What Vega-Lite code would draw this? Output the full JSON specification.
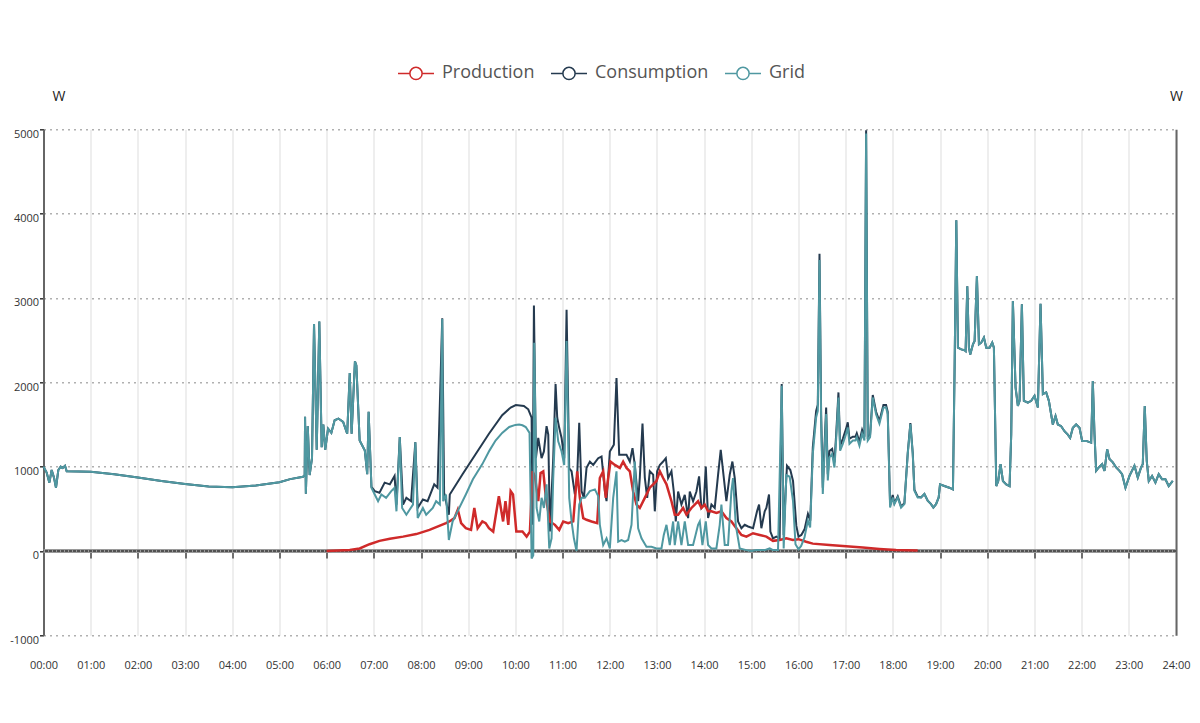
{
  "$schema": "https://vega.github.io/schema/vega-lite/v6.json",
  "background": "white",
  "autosize": {"type": "none"},
  "padding": {"left": 43.5, "top": 129.3, "right": 24, "bottom": 88},
  "width": 1132.5,
  "height": 506,
  "config": {
    "font": "Open Sans",
    "view": {"stroke": null},
    "axis": {"labelFont": "Open Sans", "titleFont": "Open Sans"}
  },
  "datasets": {
    "power": [
      {"series": "Grid", "hour": 0, "watts": 1000},
      {"series": "Grid", "hour": 0.067, "watts": 930},
      {"series": "Grid", "hour": 0.124, "watts": 810},
      {"series": "Grid", "hour": 0.173, "watts": 960},
      {"series": "Grid", "hour": 0.222, "watts": 870},
      {"series": "Grid", "hour": 0.265, "watts": 750},
      {"series": "Grid", "hour": 0.314, "watts": 960},
      {"series": "Grid", "hour": 0.364, "watts": 1000},
      {"series": "Grid", "hour": 0.406, "watts": 985},
      {"series": "Grid", "hour": 0.456, "watts": 1010},
      {"series": "Grid", "hour": 0.491, "watts": 945},
      {"series": "Grid", "hour": 1, "watts": 940},
      {"series": "Grid", "hour": 1.5, "watts": 910},
      {"series": "Grid", "hour": 2, "watts": 870},
      {"series": "Grid", "hour": 2.5, "watts": 830},
      {"series": "Grid", "hour": 3, "watts": 795},
      {"series": "Grid", "hour": 3.5, "watts": 765},
      {"series": "Grid", "hour": 4, "watts": 755},
      {"series": "Grid", "hour": 4.5, "watts": 775},
      {"series": "Grid", "hour": 5, "watts": 815},
      {"series": "Grid", "hour": 5.227, "watts": 852},
      {"series": "Grid", "hour": 5.5, "watts": 880},
      {"series": "Grid", "hour": 5.535, "watts": 900},
      {"series": "Grid", "hour": 5.543, "watts": 1590},
      {"series": "Grid", "hour": 5.56, "watts": 680},
      {"series": "Grid", "hour": 5.6, "watts": 1480},
      {"series": "Grid", "hour": 5.64, "watts": 900},
      {"series": "Grid", "hour": 5.69, "watts": 1100},
      {"series": "Grid", "hour": 5.733, "watts": 2690},
      {"series": "Grid", "hour": 5.79, "watts": 1200},
      {"series": "Grid", "hour": 5.845, "watts": 2720},
      {"series": "Grid", "hour": 5.895, "watts": 1230},
      {"series": "Grid", "hour": 5.93, "watts": 1500},
      {"series": "Grid", "hour": 5.97, "watts": 1200},
      {"series": "Grid", "hour": 6.03, "watts": 1450},
      {"series": "Grid", "hour": 6.1, "watts": 1400},
      {"series": "Grid", "hour": 6.17, "watts": 1550},
      {"series": "Grid", "hour": 6.25, "watts": 1570},
      {"series": "Grid", "hour": 6.35, "watts": 1530},
      {"series": "Grid", "hour": 6.436, "watts": 1390},
      {"series": "Grid", "hour": 6.49, "watts": 2110},
      {"series": "Grid", "hour": 6.53, "watts": 1390},
      {"series": "Grid", "hour": 6.6, "watts": 2250},
      {"series": "Grid", "hour": 6.63, "watts": 2200},
      {"series": "Grid", "hour": 6.7, "watts": 1310},
      {"series": "Grid", "hour": 6.81, "watts": 1190},
      {"series": "Grid", "hour": 6.86, "watts": 910},
      {"series": "Grid", "hour": 6.89, "watts": 1650},
      {"series": "Grid", "hour": 6.95, "watts": 750},
      {"series": "Grid", "hour": 7.02, "watts": 670},
      {"series": "Grid", "hour": 7.09, "watts": 590},
      {"series": "Grid", "hour": 7.16, "watts": 670},
      {"series": "Grid", "hour": 7.26, "watts": 630},
      {"series": "Grid", "hour": 7.37, "watts": 710},
      {"series": "Grid", "hour": 7.44, "watts": 750},
      {"series": "Grid", "hour": 7.48, "watts": 470},
      {"series": "Grid", "hour": 7.55, "watts": 1350},
      {"series": "Grid", "hour": 7.6, "watts": 510},
      {"series": "Grid", "hour": 7.69, "watts": 430},
      {"series": "Grid", "hour": 7.83, "watts": 550},
      {"series": "Grid", "hour": 7.88, "watts": 1290},
      {"series": "Grid", "hour": 7.93, "watts": 390},
      {"series": "Grid", "hour": 8.04, "watts": 510},
      {"series": "Grid", "hour": 8.11, "watts": 430},
      {"series": "Grid", "hour": 8.25, "watts": 510},
      {"series": "Grid", "hour": 8.32, "watts": 590},
      {"series": "Grid", "hour": 8.4, "watts": 550},
      {"series": "Grid", "hour": 8.45, "watts": 2750},
      {"series": "Grid", "hour": 8.47, "watts": 590},
      {"series": "Grid", "hour": 8.53, "watts": 670},
      {"series": "Grid", "hour": 8.59, "watts": 130},
      {"series": "Grid", "hour": 8.67, "watts": 350},
      {"series": "Grid", "hour": 8.95, "watts": 670},
      {"series": "Grid", "hour": 9.1, "watts": 850},
      {"series": "Grid", "hour": 9.3, "watts": 1030},
      {"series": "Grid", "hour": 9.45, "watts": 1190},
      {"series": "Grid", "hour": 9.58, "watts": 1310},
      {"series": "Grid", "hour": 9.72, "watts": 1400},
      {"series": "Grid", "hour": 9.87, "watts": 1470},
      {"series": "Grid", "hour": 10.0, "watts": 1495},
      {"series": "Grid", "hour": 10.08, "watts": 1500},
      {"series": "Grid", "hour": 10.15, "watts": 1490},
      {"series": "Grid", "hour": 10.22, "watts": 1470},
      {"series": "Grid", "hour": 10.3, "watts": 1400},
      {"series": "Grid", "hour": 10.344, "watts": -90},
      {"series": "Grid", "hour": 10.379, "watts": -50},
      {"series": "Grid", "hour": 10.4, "watts": 2470},
      {"series": "Grid", "hour": 10.45, "watts": 510},
      {"series": "Grid", "hour": 10.506, "watts": 350},
      {"series": "Grid", "hour": 10.555, "watts": 630},
      {"series": "Grid", "hour": 10.605, "watts": 510},
      {"series": "Grid", "hour": 10.661, "watts": 790},
      {"series": "Grid", "hour": 10.718, "watts": 30},
      {"series": "Grid", "hour": 10.767, "watts": 150},
      {"series": "Grid", "hour": 10.802, "watts": 865},
      {"series": "Grid", "hour": 10.852, "watts": 1580},
      {"series": "Grid", "hour": 10.908, "watts": 1300},
      {"series": "Grid", "hour": 10.979, "watts": 1180},
      {"series": "Grid", "hour": 11.035, "watts": 1020},
      {"series": "Grid", "hour": 11.085, "watts": 2490},
      {"series": "Grid", "hour": 11.141, "watts": 630},
      {"series": "Grid", "hour": 11.191, "watts": 350},
      {"series": "Grid", "hour": 11.24, "watts": 150},
      {"series": "Grid", "hour": 11.296, "watts": 0},
      {"series": "Grid", "hour": 11.353, "watts": 550},
      {"series": "Grid", "hour": 11.402, "watts": 630},
      {"series": "Grid", "hour": 11.473, "watts": 630},
      {"series": "Grid", "hour": 11.579, "watts": 710},
      {"series": "Grid", "hour": 11.685, "watts": 730},
      {"series": "Grid", "hour": 11.755, "watts": 650},
      {"series": "Grid", "hour": 11.79, "watts": 310},
      {"series": "Grid", "hour": 11.861, "watts": 70},
      {"series": "Grid", "hour": 11.932, "watts": 150},
      {"series": "Grid", "hour": 12.002, "watts": 30},
      {"series": "Grid", "hour": 12.073, "watts": 630},
      {"series": "Grid", "hour": 12.143, "watts": 945},
      {"series": "Grid", "hour": 12.179, "watts": 110},
      {"series": "Grid", "hour": 12.249, "watts": 130},
      {"series": "Grid", "hour": 12.32, "watts": 110},
      {"series": "Grid", "hour": 12.39, "watts": 130},
      {"series": "Grid", "hour": 12.461, "watts": 310},
      {"series": "Grid", "hour": 12.531, "watts": 1060},
      {"series": "Grid", "hour": 12.602, "watts": 270},
      {"series": "Grid", "hour": 12.673, "watts": 150},
      {"series": "Grid", "hour": 12.778, "watts": 50},
      {"series": "Grid", "hour": 12.884, "watts": 50},
      {"series": "Grid", "hour": 12.99, "watts": 30},
      {"series": "Grid", "hour": 13.096, "watts": 30},
      {"series": "Grid", "hour": 13.145, "watts": 190},
      {"series": "Grid", "hour": 13.202, "watts": 310},
      {"series": "Grid", "hour": 13.272, "watts": 70},
      {"series": "Grid", "hour": 13.343, "watts": 350},
      {"series": "Grid", "hour": 13.378, "watts": 70},
      {"series": "Grid", "hour": 13.449, "watts": 350},
      {"series": "Grid", "hour": 13.519, "watts": 70},
      {"series": "Grid", "hour": 13.59, "watts": 350},
      {"series": "Grid", "hour": 13.661, "watts": 70},
      {"series": "Grid", "hour": 13.766, "watts": 70},
      {"series": "Grid", "hour": 13.872, "watts": 310},
      {"series": "Grid", "hour": 13.908, "watts": 350},
      {"series": "Grid", "hour": 13.964, "watts": 70},
      {"series": "Grid", "hour": 14.035, "watts": 350},
      {"series": "Grid", "hour": 14.084, "watts": 70},
      {"series": "Grid", "hour": 14.155, "watts": 30},
      {"series": "Grid", "hour": 14.26, "watts": 30},
      {"series": "Grid", "hour": 14.331, "watts": 310},
      {"series": "Grid", "hour": 14.366, "watts": 550},
      {"series": "Grid", "hour": 14.437, "watts": 70},
      {"series": "Grid", "hour": 14.507, "watts": 70},
      {"series": "Grid", "hour": 14.578, "watts": 710},
      {"series": "Grid", "hour": 14.613, "watts": 865},
      {"series": "Grid", "hour": 14.67, "watts": 310},
      {"series": "Grid", "hour": 14.754, "watts": 30},
      {"series": "Grid", "hour": 14.896, "watts": 10},
      {"series": "Grid", "hour": 15.001, "watts": 0},
      {"series": "Grid", "hour": 15.107, "watts": 10},
      {"series": "Grid", "hour": 15.178, "watts": 10},
      {"series": "Grid", "hour": 15.284, "watts": 10},
      {"series": "Grid", "hour": 15.389, "watts": 30},
      {"series": "Grid", "hour": 15.46, "watts": 10},
      {"series": "Grid", "hour": 15.566, "watts": 10},
      {"series": "Grid", "hour": 15.644, "watts": 1960},
      {"series": "Grid", "hour": 15.686, "watts": 30},
      {"series": "Grid", "hour": 15.742, "watts": 900},
      {"series": "Grid", "hour": 15.813, "watts": 880},
      {"series": "Grid", "hour": 15.884, "watts": 590},
      {"series": "Grid", "hour": 15.936, "watts": 80},
      {"series": "Grid", "hour": 16.0, "watts": 20},
      {"series": "Grid", "hour": 16.056, "watts": 60},
      {"series": "Grid", "hour": 16.127, "watts": 160},
      {"series": "Grid", "hour": 16.198, "watts": 360},
      {"series": "Grid", "hour": 16.247, "watts": 280},
      {"series": "Grid", "hour": 16.303, "watts": 1150},
      {"series": "Grid", "hour": 16.374, "watts": 1585},
      {"series": "Grid", "hour": 16.409, "watts": 1660},
      {"series": "Grid", "hour": 16.445, "watts": 3450},
      {"series": "Grid", "hour": 16.48, "watts": 1540},
      {"series": "Grid", "hour": 16.515, "watts": 675},
      {"series": "Grid", "hour": 16.55, "watts": 1150},
      {"series": "Grid", "hour": 16.586, "watts": 1625},
      {"series": "Grid", "hour": 16.621, "watts": 835},
      {"series": "Grid", "hour": 16.656, "watts": 1110},
      {"series": "Grid", "hour": 16.713, "watts": 1150},
      {"series": "Grid", "hour": 16.762, "watts": 990},
      {"series": "Grid", "hour": 16.797, "watts": 1310},
      {"series": "Grid", "hour": 16.847, "watts": 1820},
      {"series": "Grid", "hour": 16.882, "watts": 1190},
      {"series": "Grid", "hour": 16.939, "watts": 1270},
      {"series": "Grid", "hour": 17.009, "watts": 1390},
      {"series": "Grid", "hour": 17.044, "watts": 1465},
      {"series": "Grid", "hour": 17.08, "watts": 1270},
      {"series": "Grid", "hour": 17.15, "watts": 1310},
      {"series": "Grid", "hour": 17.207, "watts": 1310},
      {"series": "Grid", "hour": 17.235, "watts": 1350},
      {"series": "Grid", "hour": 17.291, "watts": 1250},
      {"series": "Grid", "hour": 17.348, "watts": 1390},
      {"series": "Grid", "hour": 17.397, "watts": 1310},
      {"series": "Grid", "hour": 17.433, "watts": 4950},
      {"series": "Grid", "hour": 17.468, "watts": 1310},
      {"series": "Grid", "hour": 17.517, "watts": 1350},
      {"series": "Grid", "hour": 17.574, "watts": 1820},
      {"series": "Grid", "hour": 17.644, "watts": 1620},
      {"series": "Grid", "hour": 17.715, "watts": 1510},
      {"series": "Grid", "hour": 17.8, "watts": 1700},
      {"series": "Grid", "hour": 17.856, "watts": 1700},
      {"series": "Grid", "hour": 17.891, "watts": 1620},
      {"series": "Grid", "hour": 17.941, "watts": 515},
      {"series": "Grid", "hour": 17.997, "watts": 635},
      {"series": "Grid", "hour": 18.032, "watts": 555},
      {"series": "Grid", "hour": 18.103, "watts": 635},
      {"series": "Grid", "hour": 18.174, "watts": 515},
      {"series": "Grid", "hour": 18.244, "watts": 555},
      {"series": "Grid", "hour": 18.315, "watts": 1150},
      {"series": "Grid", "hour": 18.371, "watts": 1505},
      {"series": "Grid", "hour": 18.421, "watts": 1150},
      {"series": "Grid", "hour": 18.456, "watts": 715},
      {"series": "Grid", "hour": 18.526, "watts": 635},
      {"series": "Grid", "hour": 18.597, "watts": 635},
      {"series": "Grid", "hour": 18.668, "watts": 675},
      {"series": "Grid", "hour": 18.738, "watts": 595},
      {"series": "Grid", "hour": 18.809, "watts": 555},
      {"series": "Grid", "hour": 18.858, "watts": 515},
      {"series": "Grid", "hour": 18.915, "watts": 555},
      {"series": "Grid", "hour": 18.971, "watts": 635},
      {"series": "Grid", "hour": 18.999, "watts": 790},
      {"series": "Grid", "hour": 19.091, "watts": 770},
      {"series": "Grid", "hour": 19.197, "watts": 750},
      {"series": "Grid", "hour": 19.273, "watts": 730},
      {"series": "Grid", "hour": 19.308, "watts": 2170},
      {"series": "Grid", "hour": 19.344, "watts": 3920},
      {"series": "Grid", "hour": 19.379, "watts": 2410},
      {"series": "Grid", "hour": 19.45, "watts": 2390},
      {"series": "Grid", "hour": 19.52, "watts": 2380},
      {"series": "Grid", "hour": 19.541, "watts": 2370},
      {"series": "Grid", "hour": 19.577, "watts": 3140},
      {"series": "Grid", "hour": 19.612, "watts": 2410},
      {"series": "Grid", "hour": 19.64, "watts": 2330},
      {"series": "Grid", "hour": 19.697, "watts": 2450},
      {"series": "Grid", "hour": 19.732, "watts": 2490},
      {"series": "Grid", "hour": 19.781, "watts": 3260},
      {"series": "Grid", "hour": 19.824, "watts": 2450},
      {"series": "Grid", "hour": 19.873, "watts": 2470},
      {"series": "Grid", "hour": 19.929, "watts": 2530},
      {"series": "Grid", "hour": 19.979, "watts": 2410},
      {"series": "Grid", "hour": 20.049, "watts": 2410},
      {"series": "Grid", "hour": 20.106, "watts": 2470},
      {"series": "Grid", "hour": 20.141, "watts": 2410},
      {"series": "Grid", "hour": 20.191, "watts": 770},
      {"series": "Grid", "hour": 20.233, "watts": 830},
      {"series": "Grid", "hour": 20.282, "watts": 1030},
      {"series": "Grid", "hour": 20.332, "watts": 830},
      {"series": "Grid", "hour": 20.402, "watts": 790},
      {"series": "Grid", "hour": 20.473, "watts": 770},
      {"series": "Grid", "hour": 20.508, "watts": 1380},
      {"series": "Grid", "hour": 20.543, "watts": 2965},
      {"series": "Grid", "hour": 20.6, "watts": 1940},
      {"series": "Grid", "hour": 20.649, "watts": 1720},
      {"series": "Grid", "hour": 20.685, "watts": 1780},
      {"series": "Grid", "hour": 20.734, "watts": 2925},
      {"series": "Grid", "hour": 20.776, "watts": 1780},
      {"series": "Grid", "hour": 20.861, "watts": 1760},
      {"series": "Grid", "hour": 20.932, "watts": 1780},
      {"series": "Grid", "hour": 21.002, "watts": 1840},
      {"series": "Grid", "hour": 21.073, "watts": 1700},
      {"series": "Grid", "hour": 21.129, "watts": 2930},
      {"series": "Grid", "hour": 21.179, "watts": 1860},
      {"series": "Grid", "hour": 21.249, "watts": 1880},
      {"series": "Grid", "hour": 21.306, "watts": 1780},
      {"series": "Grid", "hour": 21.39, "watts": 1500},
      {"series": "Grid", "hour": 21.447, "watts": 1600},
      {"series": "Grid", "hour": 21.496, "watts": 1500},
      {"series": "Grid", "hour": 21.567, "watts": 1480},
      {"series": "Grid", "hour": 21.637, "watts": 1420},
      {"series": "Grid", "hour": 21.708, "watts": 1380},
      {"series": "Grid", "hour": 21.757, "watts": 1340},
      {"series": "Grid", "hour": 21.814, "watts": 1460},
      {"series": "Grid", "hour": 21.884, "watts": 1500},
      {"series": "Grid", "hour": 21.955, "watts": 1460},
      {"series": "Grid", "hour": 22.011, "watts": 1305},
      {"series": "Grid", "hour": 22.096, "watts": 1305},
      {"series": "Grid", "hour": 22.202, "watts": 1285},
      {"series": "Grid", "hour": 22.237, "watts": 2015},
      {"series": "Grid", "hour": 22.273, "watts": 1380},
      {"series": "Grid", "hour": 22.308, "watts": 950},
      {"series": "Grid", "hour": 22.364, "watts": 990},
      {"series": "Grid", "hour": 22.435, "watts": 1030},
      {"series": "Grid", "hour": 22.484, "watts": 950},
      {"series": "Grid", "hour": 22.541, "watts": 1205},
      {"series": "Grid", "hour": 22.59, "watts": 1090},
      {"series": "Grid", "hour": 22.661, "watts": 1050},
      {"series": "Grid", "hour": 22.731, "watts": 990},
      {"series": "Grid", "hour": 22.802, "watts": 950},
      {"series": "Grid", "hour": 22.858, "watts": 910},
      {"series": "Grid", "hour": 22.929, "watts": 750},
      {"series": "Grid", "hour": 23.014, "watts": 890},
      {"series": "Grid", "hour": 23.119, "watts": 1010},
      {"series": "Grid", "hour": 23.19, "watts": 870},
      {"series": "Grid", "hour": 23.26, "watts": 990},
      {"series": "Grid", "hour": 23.296, "watts": 1030},
      {"series": "Grid", "hour": 23.338, "watts": 1720},
      {"series": "Grid", "hour": 23.38, "watts": 1070},
      {"series": "Grid", "hour": 23.423, "watts": 830},
      {"series": "Grid", "hour": 23.493, "watts": 890},
      {"series": "Grid", "hour": 23.564, "watts": 810},
      {"series": "Grid", "hour": 23.634, "watts": 910},
      {"series": "Grid", "hour": 23.705, "watts": 850},
      {"series": "Grid", "hour": 23.776, "watts": 850},
      {"series": "Grid", "hour": 23.846, "watts": 770},
      {"series": "Grid", "hour": 23.931, "watts": 830},

      {"series": "Consumption", "hour": 0, "watts": 1000},
      {"series": "Consumption", "hour": 0.067, "watts": 930},
      {"series": "Consumption", "hour": 0.124, "watts": 810},
      {"series": "Consumption", "hour": 0.173, "watts": 960},
      {"series": "Consumption", "hour": 0.222, "watts": 870},
      {"series": "Consumption", "hour": 0.265, "watts": 750},
      {"series": "Consumption", "hour": 0.314, "watts": 960},
      {"series": "Consumption", "hour": 0.364, "watts": 1000},
      {"series": "Consumption", "hour": 0.406, "watts": 985},
      {"series": "Consumption", "hour": 0.456, "watts": 1010},
      {"series": "Consumption", "hour": 0.491, "watts": 945},
      {"series": "Consumption", "hour": 1, "watts": 940},
      {"series": "Consumption", "hour": 1.5, "watts": 910},
      {"series": "Consumption", "hour": 2, "watts": 870},
      {"series": "Consumption", "hour": 2.5, "watts": 830},
      {"series": "Consumption", "hour": 3, "watts": 795},
      {"series": "Consumption", "hour": 3.5, "watts": 765},
      {"series": "Consumption", "hour": 4, "watts": 755},
      {"series": "Consumption", "hour": 4.5, "watts": 775},
      {"series": "Consumption", "hour": 5, "watts": 815},
      {"series": "Consumption", "hour": 5.227, "watts": 852},
      {"series": "Consumption", "hour": 5.5, "watts": 880},
      {"series": "Consumption", "hour": 5.535, "watts": 900},
      {"series": "Consumption", "hour": 5.543, "watts": 1590},
      {"series": "Consumption", "hour": 5.56, "watts": 680},
      {"series": "Consumption", "hour": 5.6, "watts": 1480},
      {"series": "Consumption", "hour": 5.64, "watts": 900},
      {"series": "Consumption", "hour": 5.69, "watts": 1100},
      {"series": "Consumption", "hour": 5.733, "watts": 2690},
      {"series": "Consumption", "hour": 5.79, "watts": 1200},
      {"series": "Consumption", "hour": 5.845, "watts": 2720},
      {"series": "Consumption", "hour": 5.895, "watts": 1230},
      {"series": "Consumption", "hour": 5.93, "watts": 1500},
      {"series": "Consumption", "hour": 5.97, "watts": 1200},
      {"series": "Consumption", "hour": 6.03, "watts": 1450},
      {"series": "Consumption", "hour": 6.1, "watts": 1400},
      {"series": "Consumption", "hour": 6.17, "watts": 1550},
      {"series": "Consumption", "hour": 6.25, "watts": 1570},
      {"series": "Consumption", "hour": 6.35, "watts": 1530},
      {"series": "Consumption", "hour": 6.436, "watts": 1390},
      {"series": "Consumption", "hour": 6.49, "watts": 2110},
      {"series": "Consumption", "hour": 6.53, "watts": 1390},
      {"series": "Consumption", "hour": 6.6, "watts": 2250},
      {"series": "Consumption", "hour": 6.63, "watts": 2200},
      {"series": "Consumption", "hour": 6.7, "watts": 1310},
      {"series": "Consumption", "hour": 6.81, "watts": 1190},
      {"series": "Consumption", "hour": 6.86, "watts": 910},
      {"series": "Consumption", "hour": 6.89, "watts": 1650},
      {"series": "Consumption", "hour": 6.95, "watts": 760},
      {"series": "Consumption", "hour": 7.02, "watts": 710},
      {"series": "Consumption", "hour": 7.12, "watts": 690},
      {"series": "Consumption", "hour": 7.23, "watts": 810},
      {"series": "Consumption", "hour": 7.34, "watts": 790},
      {"series": "Consumption", "hour": 7.44, "watts": 890},
      {"series": "Consumption", "hour": 7.48, "watts": 550},
      {"series": "Consumption", "hour": 7.55, "watts": 1350},
      {"series": "Consumption", "hour": 7.62, "watts": 550},
      {"series": "Consumption", "hour": 7.69, "watts": 630},
      {"series": "Consumption", "hour": 7.79, "watts": 590},
      {"series": "Consumption", "hour": 7.88, "watts": 1290},
      {"series": "Consumption", "hour": 7.93, "watts": 510},
      {"series": "Consumption", "hour": 8.04, "watts": 610},
      {"series": "Consumption", "hour": 8.14, "watts": 590},
      {"series": "Consumption", "hour": 8.28, "watts": 790},
      {"series": "Consumption", "hour": 8.35, "watts": 750},
      {"series": "Consumption", "hour": 8.45, "watts": 2760},
      {"series": "Consumption", "hour": 8.49, "watts": 690},
      {"series": "Consumption", "hour": 8.59, "watts": 430},
      {"series": "Consumption", "hour": 8.61, "watts": 670},
      {"series": "Consumption", "hour": 8.88, "watts": 910},
      {"series": "Consumption", "hour": 9.16, "watts": 1150},
      {"series": "Consumption", "hour": 9.44, "watts": 1390},
      {"series": "Consumption", "hour": 9.72, "watts": 1610},
      {"series": "Consumption", "hour": 9.9, "watts": 1700},
      {"series": "Consumption", "hour": 10.01, "watts": 1730},
      {"series": "Consumption", "hour": 10.18, "watts": 1720},
      {"series": "Consumption", "hour": 10.273, "watts": 1680},
      {"series": "Consumption", "hour": 10.344, "watts": 1580},
      {"series": "Consumption", "hour": 10.365, "watts": 310},
      {"series": "Consumption", "hour": 10.393, "watts": 2910},
      {"series": "Consumption", "hour": 10.435, "watts": 1100},
      {"series": "Consumption", "hour": 10.485, "watts": 1340},
      {"series": "Consumption", "hour": 10.555, "watts": 1100},
      {"series": "Consumption", "hour": 10.605, "watts": 1180},
      {"series": "Consumption", "hour": 10.661, "watts": 1480},
      {"series": "Consumption", "hour": 10.697, "watts": 1380},
      {"series": "Consumption", "hour": 10.732, "watts": 230},
      {"series": "Consumption", "hour": 10.802, "watts": 1100},
      {"series": "Consumption", "hour": 10.852, "watts": 1980},
      {"series": "Consumption", "hour": 10.887, "watts": 1580},
      {"series": "Consumption", "hour": 10.929, "watts": 1460},
      {"series": "Consumption", "hour": 10.979, "watts": 1340},
      {"series": "Consumption", "hour": 11.035, "watts": 1100},
      {"series": "Consumption", "hour": 11.085, "watts": 2860},
      {"series": "Consumption", "hour": 11.141, "watts": 980},
      {"series": "Consumption", "hour": 11.191, "watts": 945},
      {"series": "Consumption", "hour": 11.261, "watts": 670},
      {"series": "Consumption", "hour": 11.311, "watts": 905},
      {"series": "Consumption", "hour": 11.353, "watts": 1520},
      {"series": "Consumption", "hour": 11.402, "watts": 710},
      {"series": "Consumption", "hour": 11.452, "watts": 630},
      {"series": "Consumption", "hour": 11.508, "watts": 985},
      {"series": "Consumption", "hour": 11.579, "watts": 1060},
      {"series": "Consumption", "hour": 11.649, "watts": 1020},
      {"series": "Consumption", "hour": 11.755, "watts": 1100},
      {"series": "Consumption", "hour": 11.826, "watts": 1120},
      {"series": "Consumption", "hour": 11.896, "watts": 710},
      {"series": "Consumption", "hour": 11.932, "watts": 590},
      {"series": "Consumption", "hour": 12.002, "watts": 1180},
      {"series": "Consumption", "hour": 12.087, "watts": 1260},
      {"series": "Consumption", "hour": 12.143, "watts": 2050},
      {"series": "Consumption", "hour": 12.2, "watts": 1140},
      {"series": "Consumption", "hour": 12.249, "watts": 1140},
      {"series": "Consumption", "hour": 12.355, "watts": 1140},
      {"series": "Consumption", "hour": 12.426, "watts": 1060},
      {"series": "Consumption", "hour": 12.482, "watts": 1220},
      {"series": "Consumption", "hour": 12.531, "watts": 1020},
      {"series": "Consumption", "hour": 12.602, "watts": 590},
      {"series": "Consumption", "hour": 12.637, "watts": 870},
      {"series": "Consumption", "hour": 12.694, "watts": 1510},
      {"series": "Consumption", "hour": 12.743, "watts": 870},
      {"series": "Consumption", "hour": 12.793, "watts": 630},
      {"series": "Consumption", "hour": 12.849, "watts": 945},
      {"series": "Consumption", "hour": 12.92, "watts": 905},
      {"series": "Consumption", "hour": 12.955, "watts": 470},
      {"series": "Consumption", "hour": 13.004, "watts": 945},
      {"series": "Consumption", "hour": 13.061, "watts": 1020},
      {"series": "Consumption", "hour": 13.131, "watts": 1060},
      {"series": "Consumption", "hour": 13.188, "watts": 1100},
      {"series": "Consumption", "hour": 13.237, "watts": 865},
      {"series": "Consumption", "hour": 13.308, "watts": 945},
      {"series": "Consumption", "hour": 13.357, "watts": 705},
      {"series": "Consumption", "hour": 13.399, "watts": 350},
      {"series": "Consumption", "hour": 13.449, "watts": 705},
      {"series": "Consumption", "hour": 13.519, "watts": 550},
      {"series": "Consumption", "hour": 13.59, "watts": 665},
      {"series": "Consumption", "hour": 13.661, "watts": 390},
      {"series": "Consumption", "hour": 13.696, "watts": 705},
      {"series": "Consumption", "hour": 13.766, "watts": 590},
      {"series": "Consumption", "hour": 13.837, "watts": 705},
      {"series": "Consumption", "hour": 13.893, "watts": 885},
      {"series": "Consumption", "hour": 13.943, "watts": 510},
      {"series": "Consumption", "hour": 13.992, "watts": 550},
      {"series": "Consumption", "hour": 14.035, "watts": 1000},
      {"series": "Consumption", "hour": 14.084, "watts": 390},
      {"series": "Consumption", "hour": 14.155, "watts": 550},
      {"series": "Consumption", "hour": 14.225, "watts": 510},
      {"series": "Consumption", "hour": 14.296, "watts": 905},
      {"series": "Consumption", "hour": 14.352, "watts": 1200},
      {"series": "Consumption", "hour": 14.402, "watts": 945},
      {"series": "Consumption", "hour": 14.472, "watts": 590},
      {"series": "Consumption", "hour": 14.543, "watts": 905},
      {"series": "Consumption", "hour": 14.599, "watts": 1060},
      {"series": "Consumption", "hour": 14.649, "watts": 865},
      {"series": "Consumption", "hour": 14.719, "watts": 350},
      {"series": "Consumption", "hour": 14.79, "watts": 270},
      {"series": "Consumption", "hour": 14.86, "watts": 310},
      {"series": "Consumption", "hour": 14.931, "watts": 290},
      {"series": "Consumption", "hour": 15.037, "watts": 270},
      {"series": "Consumption", "hour": 15.121, "watts": 470},
      {"series": "Consumption", "hour": 15.164, "watts": 550},
      {"series": "Consumption", "hour": 15.213, "watts": 270},
      {"series": "Consumption", "hour": 15.284, "watts": 470},
      {"series": "Consumption", "hour": 15.319, "watts": 510},
      {"series": "Consumption", "hour": 15.375, "watts": 670},
      {"series": "Consumption", "hour": 15.404, "watts": 230},
      {"series": "Consumption", "hour": 15.46, "watts": 150},
      {"series": "Consumption", "hour": 15.531, "watts": 170},
      {"series": "Consumption", "hour": 15.601, "watts": 150},
      {"series": "Consumption", "hour": 15.644, "watts": 1980},
      {"series": "Consumption", "hour": 15.686, "watts": 190},
      {"series": "Consumption", "hour": 15.728, "watts": 710},
      {"series": "Consumption", "hour": 15.756, "watts": 1010},
      {"series": "Consumption", "hour": 15.827, "watts": 960},
      {"series": "Consumption", "hour": 15.884, "watts": 830},
      {"series": "Consumption", "hour": 15.954, "watts": 300},
      {"series": "Consumption", "hour": 16.0, "watts": 170},
      {"series": "Consumption", "hour": 16.06, "watts": 190},
      {"series": "Consumption", "hour": 16.13, "watts": 260},
      {"series": "Consumption", "hour": 16.2, "watts": 440},
      {"series": "Consumption", "hour": 16.25, "watts": 360},
      {"series": "Consumption", "hour": 16.303, "watts": 1230},
      {"series": "Consumption", "hour": 16.374, "watts": 1660},
      {"series": "Consumption", "hour": 16.409, "watts": 1735},
      {"series": "Consumption", "hour": 16.445, "watts": 3525},
      {"series": "Consumption", "hour": 16.48, "watts": 1615},
      {"series": "Consumption", "hour": 16.515, "watts": 750},
      {"series": "Consumption", "hour": 16.55, "watts": 1225},
      {"series": "Consumption", "hour": 16.586, "watts": 1700},
      {"series": "Consumption", "hour": 16.621, "watts": 910},
      {"series": "Consumption", "hour": 16.656, "watts": 1185},
      {"series": "Consumption", "hour": 16.713, "watts": 1210},
      {"series": "Consumption", "hour": 16.762, "watts": 1050},
      {"series": "Consumption", "hour": 16.797, "watts": 1370},
      {"series": "Consumption", "hour": 16.847, "watts": 1880},
      {"series": "Consumption", "hour": 16.882, "watts": 1250},
      {"series": "Consumption", "hour": 16.939, "watts": 1330},
      {"series": "Consumption", "hour": 17.009, "watts": 1450},
      {"series": "Consumption", "hour": 17.044, "watts": 1525},
      {"series": "Consumption", "hour": 17.08, "watts": 1330},
      {"series": "Consumption", "hour": 17.15, "watts": 1355},
      {"series": "Consumption", "hour": 17.207, "watts": 1355},
      {"series": "Consumption", "hour": 17.235, "watts": 1395},
      {"series": "Consumption", "hour": 17.291, "watts": 1295},
      {"series": "Consumption", "hour": 17.348, "watts": 1435},
      {"series": "Consumption", "hour": 17.397, "watts": 1355},
      {"series": "Consumption", "hour": 17.433, "watts": 4990},
      {"series": "Consumption", "hour": 17.468, "watts": 1355},
      {"series": "Consumption", "hour": 17.517, "watts": 1380},
      {"series": "Consumption", "hour": 17.574, "watts": 1850},
      {"series": "Consumption", "hour": 17.644, "watts": 1650},
      {"series": "Consumption", "hour": 17.715, "watts": 1540},
      {"series": "Consumption", "hour": 17.8, "watts": 1730},
      {"series": "Consumption", "hour": 17.856, "watts": 1730},
      {"series": "Consumption", "hour": 17.891, "watts": 1650},
      {"series": "Consumption", "hour": 17.941, "watts": 545},
      {"series": "Consumption", "hour": 17.997, "watts": 665},
      {"series": "Consumption", "hour": 18.032, "watts": 567},
      {"series": "Consumption", "hour": 18.103, "watts": 647},
      {"series": "Consumption", "hour": 18.174, "watts": 527},
      {"series": "Consumption", "hour": 18.244, "watts": 567},
      {"series": "Consumption", "hour": 18.315, "watts": 1162},
      {"series": "Consumption", "hour": 18.371, "watts": 1517},
      {"series": "Consumption", "hour": 18.421, "watts": 1162},
      {"series": "Consumption", "hour": 18.456, "watts": 727},
      {"series": "Consumption", "hour": 18.526, "watts": 643},
      {"series": "Consumption", "hour": 18.597, "watts": 635},
      {"series": "Consumption", "hour": 18.668, "watts": 675},
      {"series": "Consumption", "hour": 18.738, "watts": 595},
      {"series": "Consumption", "hour": 18.809, "watts": 555},
      {"series": "Consumption", "hour": 18.858, "watts": 515},
      {"series": "Consumption", "hour": 18.915, "watts": 555},
      {"series": "Consumption", "hour": 18.971, "watts": 635},
      {"series": "Consumption", "hour": 18.999, "watts": 790},
      {"series": "Consumption", "hour": 19.091, "watts": 770},
      {"series": "Consumption", "hour": 19.197, "watts": 750},
      {"series": "Consumption", "hour": 19.273, "watts": 730},
      {"series": "Consumption", "hour": 19.308, "watts": 2170},
      {"series": "Consumption", "hour": 19.344, "watts": 3920},
      {"series": "Consumption", "hour": 19.379, "watts": 2410},
      {"series": "Consumption", "hour": 19.45, "watts": 2390},
      {"series": "Consumption", "hour": 19.52, "watts": 2380},
      {"series": "Consumption", "hour": 19.541, "watts": 2370},
      {"series": "Consumption", "hour": 19.577, "watts": 3140},
      {"series": "Consumption", "hour": 19.612, "watts": 2410},
      {"series": "Consumption", "hour": 19.64, "watts": 2330},
      {"series": "Consumption", "hour": 19.697, "watts": 2450},
      {"series": "Consumption", "hour": 19.732, "watts": 2490},
      {"series": "Consumption", "hour": 19.781, "watts": 3260},
      {"series": "Consumption", "hour": 19.824, "watts": 2450},
      {"series": "Consumption", "hour": 19.873, "watts": 2470},
      {"series": "Consumption", "hour": 19.929, "watts": 2530},
      {"series": "Consumption", "hour": 19.979, "watts": 2410},
      {"series": "Consumption", "hour": 20.049, "watts": 2410},
      {"series": "Consumption", "hour": 20.106, "watts": 2470},
      {"series": "Consumption", "hour": 20.141, "watts": 2410},
      {"series": "Consumption", "hour": 20.191, "watts": 770},
      {"series": "Consumption", "hour": 20.233, "watts": 830},
      {"series": "Consumption", "hour": 20.282, "watts": 1030},
      {"series": "Consumption", "hour": 20.332, "watts": 830},
      {"series": "Consumption", "hour": 20.402, "watts": 790},
      {"series": "Consumption", "hour": 20.473, "watts": 770},
      {"series": "Consumption", "hour": 20.508, "watts": 1380},
      {"series": "Consumption", "hour": 20.543, "watts": 2965},
      {"series": "Consumption", "hour": 20.6, "watts": 1940},
      {"series": "Consumption", "hour": 20.649, "watts": 1720},
      {"series": "Consumption", "hour": 20.685, "watts": 1780},
      {"series": "Consumption", "hour": 20.734, "watts": 2925},
      {"series": "Consumption", "hour": 20.776, "watts": 1780},
      {"series": "Consumption", "hour": 20.861, "watts": 1760},
      {"series": "Consumption", "hour": 20.932, "watts": 1780},
      {"series": "Consumption", "hour": 21.002, "watts": 1840},
      {"series": "Consumption", "hour": 21.073, "watts": 1700},
      {"series": "Consumption", "hour": 21.129, "watts": 2930},
      {"series": "Consumption", "hour": 21.179, "watts": 1860},
      {"series": "Consumption", "hour": 21.249, "watts": 1880},
      {"series": "Consumption", "hour": 21.306, "watts": 1780},
      {"series": "Consumption", "hour": 21.39, "watts": 1500},
      {"series": "Consumption", "hour": 21.447, "watts": 1600},
      {"series": "Consumption", "hour": 21.496, "watts": 1500},
      {"series": "Consumption", "hour": 21.567, "watts": 1480},
      {"series": "Consumption", "hour": 21.637, "watts": 1420},
      {"series": "Consumption", "hour": 21.708, "watts": 1380},
      {"series": "Consumption", "hour": 21.757, "watts": 1340},
      {"series": "Consumption", "hour": 21.814, "watts": 1460},
      {"series": "Consumption", "hour": 21.884, "watts": 1500},
      {"series": "Consumption", "hour": 21.955, "watts": 1460},
      {"series": "Consumption", "hour": 22.011, "watts": 1305},
      {"series": "Consumption", "hour": 22.096, "watts": 1305},
      {"series": "Consumption", "hour": 22.202, "watts": 1285},
      {"series": "Consumption", "hour": 22.237, "watts": 2015},
      {"series": "Consumption", "hour": 22.273, "watts": 1380},
      {"series": "Consumption", "hour": 22.308, "watts": 950},
      {"series": "Consumption", "hour": 22.364, "watts": 990},
      {"series": "Consumption", "hour": 22.435, "watts": 1030},
      {"series": "Consumption", "hour": 22.484, "watts": 950},
      {"series": "Consumption", "hour": 22.541, "watts": 1205},
      {"series": "Consumption", "hour": 22.59, "watts": 1090},
      {"series": "Consumption", "hour": 22.661, "watts": 1050},
      {"series": "Consumption", "hour": 22.731, "watts": 990},
      {"series": "Consumption", "hour": 22.802, "watts": 950},
      {"series": "Consumption", "hour": 22.858, "watts": 910},
      {"series": "Consumption", "hour": 22.929, "watts": 750},
      {"series": "Consumption", "hour": 23.014, "watts": 890},
      {"series": "Consumption", "hour": 23.119, "watts": 1010},
      {"series": "Consumption", "hour": 23.19, "watts": 870},
      {"series": "Consumption", "hour": 23.26, "watts": 990},
      {"series": "Consumption", "hour": 23.296, "watts": 1030},
      {"series": "Consumption", "hour": 23.338, "watts": 1720},
      {"series": "Consumption", "hour": 23.38, "watts": 1070},
      {"series": "Consumption", "hour": 23.423, "watts": 830},
      {"series": "Consumption", "hour": 23.493, "watts": 890},
      {"series": "Consumption", "hour": 23.564, "watts": 810},
      {"series": "Consumption", "hour": 23.634, "watts": 910},
      {"series": "Consumption", "hour": 23.705, "watts": 850},
      {"series": "Consumption", "hour": 23.776, "watts": 850},
      {"series": "Consumption", "hour": 23.846, "watts": 770},
      {"series": "Consumption", "hour": 23.931, "watts": 830},

      {"series": "Production", "hour": 6.0, "watts": 0},
      {"series": "Production", "hour": 6.49, "watts": 12},
      {"series": "Production", "hour": 6.7, "watts": 30},
      {"series": "Production", "hour": 6.91, "watts": 80},
      {"series": "Production", "hour": 7.12, "watts": 120},
      {"series": "Production", "hour": 7.34, "watts": 145},
      {"series": "Production", "hour": 7.62, "watts": 170},
      {"series": "Production", "hour": 7.9, "watts": 200},
      {"series": "Production", "hour": 8.18, "watts": 250},
      {"series": "Production", "hour": 8.4, "watts": 300},
      {"series": "Production", "hour": 8.53, "watts": 330},
      {"series": "Production", "hour": 8.6, "watts": 350},
      {"series": "Production", "hour": 8.71, "watts": 390},
      {"series": "Production", "hour": 8.78, "watts": 490},
      {"series": "Production", "hour": 8.85, "watts": 330},
      {"series": "Production", "hour": 8.95, "watts": 270},
      {"series": "Production", "hour": 9.06, "watts": 250},
      {"series": "Production", "hour": 9.13, "watts": 510},
      {"series": "Production", "hour": 9.2, "watts": 270},
      {"series": "Production", "hour": 9.3, "watts": 350},
      {"series": "Production", "hour": 9.37, "watts": 330},
      {"series": "Production", "hour": 9.44, "watts": 270},
      {"series": "Production", "hour": 9.53, "watts": 230},
      {"series": "Production", "hour": 9.65, "watts": 650},
      {"series": "Production", "hour": 9.74, "watts": 350},
      {"series": "Production", "hour": 9.79, "watts": 590},
      {"series": "Production", "hour": 9.85, "watts": 310},
      {"series": "Production", "hour": 9.9, "watts": 710},
      {"series": "Production", "hour": 9.95, "watts": 670},
      {"series": "Production", "hour": 10.02, "watts": 230},
      {"series": "Production", "hour": 10.15, "watts": 230},
      {"series": "Production", "hour": 10.238, "watts": 170},
      {"series": "Production", "hour": 10.308, "watts": 230},
      {"series": "Production", "hour": 10.365, "watts": 945},
      {"series": "Production", "hour": 10.414, "watts": 885},
      {"series": "Production", "hour": 10.485, "watts": 590},
      {"series": "Production", "hour": 10.534, "watts": 925},
      {"series": "Production", "hour": 10.591, "watts": 945},
      {"series": "Production", "hour": 10.647, "watts": 630},
      {"series": "Production", "hour": 10.732, "watts": 350},
      {"series": "Production", "hour": 10.838, "watts": 310},
      {"series": "Production", "hour": 10.929, "watts": 250},
      {"series": "Production", "hour": 11.014, "watts": 350},
      {"series": "Production", "hour": 11.12, "watts": 330},
      {"series": "Production", "hour": 11.226, "watts": 350},
      {"series": "Production", "hour": 11.311, "watts": 945},
      {"series": "Production", "hour": 11.367, "watts": 630},
      {"series": "Production", "hour": 11.438, "watts": 390},
      {"series": "Production", "hour": 11.508, "watts": 370},
      {"series": "Production", "hour": 11.614, "watts": 350},
      {"series": "Production", "hour": 11.734, "watts": 330},
      {"series": "Production", "hour": 11.79, "watts": 865},
      {"series": "Production", "hour": 11.861, "watts": 945},
      {"series": "Production", "hour": 11.917, "watts": 630},
      {"series": "Production", "hour": 11.967, "watts": 865},
      {"series": "Production", "hour": 12.016, "watts": 1060},
      {"series": "Production", "hour": 12.108, "watts": 1020},
      {"series": "Production", "hour": 12.214, "watts": 985},
      {"series": "Production", "hour": 12.284, "watts": 1060},
      {"series": "Production", "hour": 12.355, "watts": 985},
      {"series": "Production", "hour": 12.426, "watts": 945},
      {"series": "Production", "hour": 12.496, "watts": 705},
      {"series": "Production", "hour": 12.567, "watts": 550},
      {"series": "Production", "hour": 12.637, "watts": 510},
      {"series": "Production", "hour": 12.743, "watts": 630},
      {"series": "Production", "hour": 12.849, "watts": 750},
      {"series": "Production", "hour": 12.92, "watts": 790},
      {"series": "Production", "hour": 12.99, "watts": 830},
      {"series": "Production", "hour": 13.061, "watts": 945},
      {"series": "Production", "hour": 13.131, "watts": 865},
      {"series": "Production", "hour": 13.202, "watts": 790},
      {"series": "Production", "hour": 13.308, "watts": 590},
      {"series": "Production", "hour": 13.378, "watts": 430},
      {"series": "Production", "hour": 13.449, "watts": 430},
      {"series": "Production", "hour": 13.555, "watts": 510},
      {"series": "Production", "hour": 13.625, "watts": 430},
      {"series": "Production", "hour": 13.731, "watts": 510},
      {"series": "Production", "hour": 13.802, "watts": 550},
      {"series": "Production", "hour": 13.872, "watts": 590},
      {"series": "Production", "hour": 13.943, "watts": 510},
      {"series": "Production", "hour": 14.013, "watts": 550},
      {"series": "Production", "hour": 14.084, "watts": 470},
      {"series": "Production", "hour": 14.155, "watts": 470},
      {"series": "Production", "hour": 14.26, "watts": 450},
      {"series": "Production", "hour": 14.366, "watts": 470},
      {"series": "Production", "hour": 14.472, "watts": 390},
      {"series": "Production", "hour": 14.578, "watts": 350},
      {"series": "Production", "hour": 14.684, "watts": 270},
      {"series": "Production", "hour": 14.79, "watts": 190},
      {"series": "Production", "hour": 14.896, "watts": 170},
      {"series": "Production", "hour": 15.037, "watts": 210},
      {"series": "Production", "hour": 15.178, "watts": 190},
      {"series": "Production", "hour": 15.319, "watts": 170},
      {"series": "Production", "hour": 15.46, "watts": 120},
      {"series": "Production", "hour": 15.601, "watts": 130},
      {"series": "Production", "hour": 15.742, "watts": 150},
      {"series": "Production", "hour": 15.88, "watts": 130},
      {"series": "Production", "hour": 16.0, "watts": 140},
      {"series": "Production", "hour": 16.162, "watts": 110},
      {"series": "Production", "hour": 16.303, "watts": 87},
      {"series": "Production", "hour": 16.656, "watts": 71},
      {"series": "Production", "hour": 17.009, "watts": 55},
      {"series": "Production", "hour": 17.362, "watts": 40},
      {"series": "Production", "hour": 17.715, "watts": 24},
      {"series": "Production", "hour": 18.068, "watts": 12},
      {"series": "Production", "hour": 18.526, "watts": 6}
    ]
  },
  "layer": [
    {
      "data": {"values": [{"level": 0}]},
      "mark": {"type": "rule", "color": "#9a9a9a", "strokeWidth": 4},
      "encoding": {
        "y": {
          "field": "level",
          "type": "quantitative",
          "scale": {"domain": [-1000, 5000], "nice": false},
          "axis": {
            "orient": "left",
            "values": [-1000, 0, 1000, 2000, 3000, 4000, 5000],
            "labelExpr": "'' + datum.value",
            "title": "W",
            "titleAngle": 0,
            "titleX": 15,
            "titleY": -33,
            "titleAlign": "center",
            "titleBaseline": "middle",
            "titleFontWeight": "normal",
            "titleFontSize": 14,
            "titleColor": "#222222",
            "labelFontSize": 11,
            "labelColor": "#333333",
            "labelPadding": 1,
            "labelOffset": 5,
            "domainColor": "#666666",
            "domainWidth": 2,
            "tickColor": "#333333",
            "tickSize": 4,
            "tickWidth": 1.5,
            "grid": true,
            "gridColor": "#b0b0b0",
            "gridDash": [2, 4],
            "gridWidth": 1.5
          }
        }
      }
    },
    {
      "data": {"values": [{"level": 0}]},
      "mark": {"type": "rule", "color": "#3a3a3a", "strokeWidth": 1.5, "strokeDash": [3, 1]},
      "encoding": {
        "y": {"field": "level", "type": "quantitative", "axis": null}
      }
    },
    {
      "data": {"name": "power"},
      "transform": [{"filter": "datum.series === 'Consumption'"}],
      "mark": {"type": "line", "strokeWidth": 2},
      "encoding": {
        "x": {
          "field": "hour",
          "type": "quantitative",
          "scale": {"domain": [0, 24], "nice": false, "zero": false},
          "axis": {
            "orient": "bottom",
            "title": null,
            "values": [0, 1, 2, 3, 4, 5, 6, 7, 8, 9, 10, 11, 12, 13, 14, 15, 16, 17, 18, 19, 20, 21, 22, 23, 24],
            "labelExpr": "(datum.value < 10 ? '0' : '') + datum.value + ':00'",
            "labelFontSize": 11,
            "labelColor": "#333333",
            "labelPadding": 24,
            "labelFlush": false,
            "labelOverlap": false,
            "ticks": false,
            "tickSize": 0,
            "domain": false,
            "grid": true,
            "gridColor": "#dddddd",
            "gridWidth": 1
          }
        },
        "y": {"field": "watts", "type": "quantitative", "axis": null},
        "color": {
          "field": "series",
          "type": "nominal",
          "scale": {
            "domain": ["Production", "Consumption", "Grid"],
            "range": ["#cf2a2a", "#243a4f", "#4f98a1"]
          },
          "legend": {
            "title": null,
            "orient": "none",
            "direction": "horizontal",
            "legendX": 353.5,
            "legendY": -75.3,
            "padding": 0,
            "columnPadding": 13,
            "symbolType": "M-1,0L-0.34,0M0.34,0A0.34,0.34,0,1,1,-0.34,0A0.34,0.34,0,1,1,0.34,0M0.34,0L1,0",
            "symbolSize": 1296,
            "symbolStrokeWidth": 1.5,
            "symbolFillColor": "white",
            "labelFont": "Open Sans",
            "labelFontSize": 18,
            "labelColor": "#555555",
            "labelOffset": 7
          }
        }
      }
    },
    {
      "data": {"name": "power"},
      "transform": [{"filter": "datum.series === 'Production'"}],
      "mark": {"type": "line", "strokeWidth": 2.5},
      "encoding": {
        "x": {"field": "hour", "type": "quantitative", "axis": null},
        "y": {"field": "watts", "type": "quantitative", "axis": null},
        "color": {"field": "series", "type": "nominal"}
      }
    },
    {
      "data": {"name": "power"},
      "transform": [{"filter": "datum.series === 'Grid'"}],
      "mark": {"type": "line", "strokeWidth": 2},
      "encoding": {
        "x": {
          "field": "hour",
          "type": "quantitative",
          "axis": {
            "orient": "bottom",
            "offset": -84.3,
            "values": [1, 2, 3, 4, 5, 6, 7, 8, 9, 10, 11, 12, 13, 14, 15, 16, 17, 18, 19, 20, 21, 22, 23],
            "labels": false,
            "title": null,
            "domain": false,
            "grid": false,
            "ticks": true,
            "tickSize": 7,
            "tickWidth": 1.5,
            "tickColor": "#444444"
          }
        },
        "y": {
          "field": "watts",
          "type": "quantitative",
          "axis": {
            "orient": "right",
            "title": "W",
            "titleAngle": 0,
            "titleX": 0,
            "titleY": -33,
            "titleAlign": "center",
            "titleBaseline": "middle",
            "titleFontWeight": "normal",
            "titleFontSize": 14,
            "titleColor": "#222222",
            "labels": false,
            "ticks": false,
            "grid": false,
            "domainColor": "#666666",
            "domainWidth": 2
          }
        },
        "color": {"field": "series", "type": "nominal"}
      }
    }
  ],
  "resolve": {"axis": {"x": "independent", "y": "independent"}}
}
